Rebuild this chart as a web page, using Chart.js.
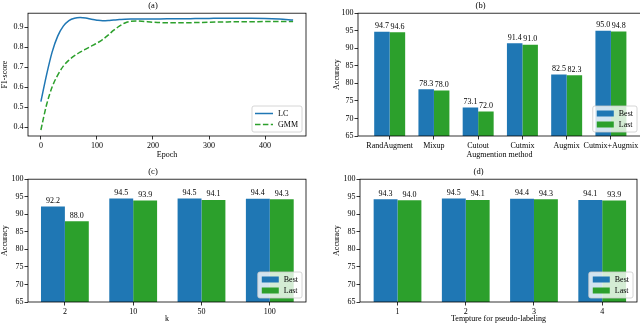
<!DOCTYPE html>
<html>
<head>
<meta charset="utf-8">
<script src="https://cdn.jsdelivr.net/npm/chart.js@4/dist/chart.umd.min.js"></script>
<style>
  body { margin: 0; width: 640px; height: 326px; overflow: hidden; background: #fff; position: relative; }
  canvas { position: absolute; }
</style>
</head>
<body>
<canvas id="chartA" width="320" height="163" style="left:0;top:0"></canvas>
<canvas id="chartB" width="330" height="163" style="left:320px;top:0"></canvas>
<canvas id="chartC" width="320" height="163" style="left:0;top:163px"></canvas>
<canvas id="chartD" width="320" height="163" style="left:320px;top:163px"></canvas>
<script>
// (a) F1-score during training
const epochs    = [0, 10, 20, 30, 40, 50, 60, 70, 80, 90, 100, 110, 120, 130, 140, 150, 160, 170, 180, 200, 225, 250, 275, 300, 325, 350, 375, 400, 425, 450]
const lcScores  = [0.527, 0.66, 0.775, 0.855, 0.905, 0.933, 0.945, 0.948, 0.946, 0.94, 0.935, 0.932, 0.933, 0.936, 0.938, 0.94, 0.941, 0.941, 0.941, 0.941, 0.942, 0.942, 0.943, 0.944, 0.945, 0.945, 0.945, 0.944, 0.941, 0.936]
const gmmScores = [0.385, 0.51, 0.6, 0.66, 0.705, 0.735, 0.757, 0.775, 0.79, 0.805, 0.82, 0.838, 0.86, 0.885, 0.905, 0.921, 0.929, 0.931, 0.93, 0.925, 0.922, 0.922, 0.923, 0.925, 0.926, 0.927, 0.927, 0.928, 0.928, 0.929]
const epochTicks = [0, 100, 200, 300, 400]
const f1Ticks = [0.4, 0.5, 0.6, 0.7, 0.8, 0.9]

// (b) augmentation methods
const augMethods = ['RandAugment', 'Mixup', 'Cutout', 'Cutmix', 'Augmix', 'Cutmix+Augmix']
const augBest = [94.7, 78.3, 73.1, 91.4, 82.5, 95.0]
const augLast = [94.6, 78.0, 72.0, 91.0, 82.3, 94.8]

// (c) k
const kValues = ['2', '10', '50', '100']
const kBest = [92.2, 94.5, 94.5, 94.4]
const kLast = [88.0, 93.9, 94.1, 94.3]

// (d) temperature
const temps = ['1', '2', '3', '4']
const tempBest = [94.3, 94.5, 94.4, 94.1]
const tempLast = [94.0, 94.1, 94.3, 93.9]

const accTicks = [65, 70, 75, 80, 85, 90, 95, 100]

const BLUE = '#1f77b4'
const GREEN = '#2ca02c'

Chart.defaults.font.family = "'Liberation Serif', 'DejaVu Serif', serif"
Chart.defaults.font.size = 8
Chart.defaults.color = '#000'
Chart.defaults.animation = false

// Box round the plot area, like matplotlib spines
const framePlugin = {
  id: 'frame',
  afterDatasetsDraw(chart) {
    const a = chart.chartArea
    const ctx = chart.ctx
    ctx.save()
    ctx.strokeStyle = '#000'
    ctx.lineWidth = 0.8
    ctx.strokeRect(a.left, a.top, a.right - a.left, a.bottom - a.top)
    ctx.restore()
  }
}

// Numbers on top of the bars
const barLabelPlugin = {
  id: 'barLabels',
  afterDatasetsDraw(chart) {
    if (chart.config.type !== 'bar') return
    const ctx = chart.ctx
    ctx.save()
    ctx.font = "8px 'Liberation Serif', serif"
    ctx.fillStyle = '#000'
    ctx.textAlign = 'center'
    ctx.textBaseline = 'bottom'
    chart.data.datasets.forEach((ds, i) => {
      chart.getDatasetMeta(i).data.forEach((bar, j) => {
        ctx.fillText(ds.data[j].y.toFixed(1), bar.x, bar.y - 1.5)
      })
    })
    ctx.restore()
  }
}

// Legend in the lower right corner of the plot
const cornerLegendPlugin = {
  id: 'cornerLegend',
  afterDraw(chart, args, opts) {
    if (!opts.show) return
    const a = chart.chartArea
    const ctx = chart.ctx
    ctx.save()
    ctx.font = "8px 'Liberation Serif', serif"
    const items = chart.data.datasets
    let textW = Math.max(...items.map(d => ctx.measureText(d.label).width))
    let w = 26 + textW + 4
    let h = 26
    let x = a.right - opts.padRight - w
    let y = a.bottom - opts.padBottom - h
    ctx.beginPath()
    ctx.roundRect(x, y, w, h, 2)
    ctx.fillStyle = 'rgba(255,255,255,0.8)'
    ctx.fill()
    ctx.strokeStyle = '#cccccc'
    ctx.lineWidth = 0.8
    ctx.stroke()
    items.forEach((d, i) => {
      let cy = y + 7.5 + i * 11
      if (chart.config.type === 'line') {
        ctx.strokeStyle = d.borderColor
        ctx.lineWidth = 1.5
        ctx.setLineDash(d.borderDash || [])
        ctx.beginPath()
        ctx.moveTo(x + 3, cy)
        ctx.lineTo(x + 21, cy)
        ctx.stroke()
        ctx.setLineDash([])
      } else {
        ctx.fillStyle = d.backgroundColor
        ctx.fillRect(x + 4, cy - 3, 17, 6)
      }
      ctx.fillStyle = '#000'
      ctx.textAlign = 'left'
      ctx.textBaseline = 'middle'
      ctx.fillText(d.label, x + 26, cy)
    })
    ctx.restore()
  }
}

Chart.register(framePlugin, barLabelPlugin, cornerLegendPlugin)

let tickGrid = { drawOnChartArea: false, drawTicks: true, tickLength: 3.5, color: '#000', lineWidth: 0.8 }

let titleOpts = (text, top) => ({
  display: true,
  text: text,
  font: { size: 8.5, weight: 'normal' },
  padding: { top: top, bottom: 2 }
})

// Chart (a)
new Chart('chartA', {
  type: 'line',
  data: {
    datasets: [{
      label: 'LC',
      data: epochs.map((e, i) => ({ x: e, y: lcScores[i] })),
      borderColor: BLUE,
      borderWidth: 1.5,
      pointRadius: 0,
      cubicInterpolationMode: 'monotone'
    }, {
      label: 'GMM',
      data: epochs.map((e, i) => ({ x: e, y: gmmScores[i] })),
      borderColor: GREEN,
      borderWidth: 1.5,
      borderDash: [5.5, 2.4],
      pointRadius: 0,
      cubicInterpolationMode: 'monotone'
    }]
  },
  options: {
    responsive: false,
    layout: { padding: { left: 0, right: 14, top: 0, bottom: 0 } },
    plugins: {
      legend: { display: false },
      tooltip: { enabled: false },
      title: titleOpts('(a)', 1),
      cornerLegend: { show: true, padRight: 4, padBottom: 4 }
    },
    scales: {
      x: {
        type: 'linear',
        min: -23, max: 473,
        grid: tickGrid,
        border: { display: false },
        afterBuildTicks: s => { s.ticks = epochTicks.map(v => ({ value: v })) },
        afterFit: s => { s.height = 27 },
        ticks: { callback: v => String(v), maxRotation: 0, padding: 2 },
        title: { display: true, text: 'Epoch', padding: { top: 0, bottom: 3 } }
      },
      y: {
        type: 'linear',
        min: 0.355, max: 0.97,
        grid: tickGrid,
        border: { display: false },
        afterBuildTicks: s => { s.ticks = f1Ticks.map(v => ({ value: v })) },
        afterFit: s => { s.width = 28 },
        ticks: { callback: v => v.toFixed(1), padding: 1 },
        title: { display: true, text: 'F1-score', padding: { top: 0, bottom: 0 } }
      }
    }
  }
})

// Bar charts (b), (c), (d)
function barChart(id, title, labels, best, last, opt) {
  return new Chart(id, {
    type: 'bar',
    data: {
      datasets: [{
        label: 'Best',
        data: best.map((v, i) => ({ x: i, y: v })),
        backgroundColor: BLUE,
        categoryPercentage: 0.7,
        barPercentage: 1.0
      }, {
        label: 'Last',
        data: last.map((v, i) => ({ x: i, y: v })),
        backgroundColor: GREEN,
        categoryPercentage: 0.7,
        barPercentage: 1.0
      }]
    },
    options: {
      responsive: false,
      layout: { padding: { left: 0, right: opt.right, top: 0, bottom: 0 } },
      plugins: {
        legend: { display: false },
        tooltip: { enabled: false },
        title: titleOpts(title, opt.titleTop),
        cornerLegend: { show: true, padRight: 4, padBottom: 4 }
      },
      scales: {
        x: {
          type: 'linear',
          offset: false,
          min: opt.xmin, max: opt.xmax,
          grid: Object.assign({ offset: false }, tickGrid),
          border: { display: false },
          afterBuildTicks: s => { s.ticks = labels.map((_, i) => ({ value: i })) },
          afterFit: s => { s.height = opt.bottom },
          ticks: { callback: v => labels[v], autoSkip: false, maxRotation: 0, padding: 2 },
          title: { display: true, text: opt.xTitle, padding: { top: 0, bottom: opt.xTitlePad } }
        },
        y: {
          min: 65, max: 100,
          grid: tickGrid,
          border: { display: false },
          afterBuildTicks: s => { s.ticks = accTicks.map(v => ({ value: v })) },
          afterFit: s => { s.width = opt.left },
          ticks: { callback: v => String(v), padding: 1 },
          title: { display: true, text: 'Accuracy', padding: { top: opt.yTitlePad, bottom: 0 } }
        }
      }
    }
  })
}

barChart('chartB', '(b)', augMethods, augBest, augLast,
  { left: 38, right: 9, bottom: 27, titleTop: 1, xmin: -0.716, xmax: 5.68, xTitle: 'Augmention method', xTitlePad: 3, yTitlePad: 12 })
barChart('chartC', '(c)', kValues, kBest, kLast,
  { left: 28, right: 14, bottom: 24, titleTop: 4, xmin: -0.54, xmax: 3.53, xTitle: 'k', xTitlePad: 2, yTitlePad: 0 })
barChart('chartD', '(d)', temps, tempBest, tempLast,
  { left: 40, right: 3, bottom: 24, titleTop: 4, xmin: -0.55, xmax: 3.51, xTitle: 'Tempture for pseudo-labeling', xTitlePad: 2, yTitlePad: 12 })
</script>
</body>
</html>
